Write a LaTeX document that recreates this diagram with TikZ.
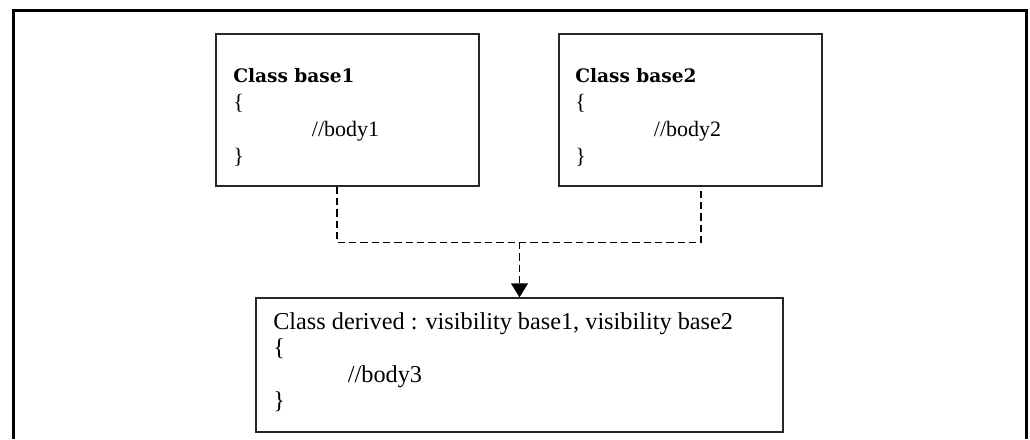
\documentclass[tikz,border=0pt]{standalone}
\usepackage{fontspec}
\setmainfont{Liberation Serif}
\newfontfamily\titlefont{DejaVu Serif}
\usetikzlibrary{arrows.meta}
\begin{document}
\begin{tikzpicture}[x=0.75pt,y=-0.75pt,
  box/.style={draw=black!85,line width=1.1pt,rectangle,inner sep=0pt},
  txt/.style={anchor=north west,inner sep=0pt,align=left},
  conn/.style={draw=black,line width=1.1pt,dash pattern=on 5.5pt off 3pt},
  tip/.style={-{Triangle[width=12.75pt,length=10.5pt]}}]
\useasboundingbox (0,0) rectangle (1030,439);
\draw[line width=2.25pt] (13,439) -- (13,10) -- (1026,10) -- (1026,439);
\node[box,minimum width=197.25pt,minimum height=114pt] (b1) at (347.5,110) {};
\node[box,minimum width=197.25pt,minimum height=114pt] (b2) at (690.5,110) {};
\node[box,minimum width=395.25pt,minimum height=100.5pt] (d) at (519.5,365) {};
\node[txt,font={\fontsize{16.5}{20.25}\selectfont}] (t1) at (233,68)
  {{\titlefont\bfseries\fontsize{13.9}{20.25}\selectfont Class base1}\\\{\\\hspace*{59pt}//body1\\\}};
\node[txt,font={\fontsize{16.5}{20.25}\selectfont}] (t2) at (575,68)
  {{\titlefont\bfseries\fontsize{13.9}{20.25}\selectfont Class base2}\\\{\\\hspace*{59pt}//body2\\\}};
\node[txt,font={\fontsize{18.2}{19.9}\selectfont}] (t3) at (273,312)
  {Class derived : visibility base1, visibility base2\\\{\\\hspace*{56pt}//body3\\\}};
\coordinate (j) at (519.5,242);
\draw[conn] ([xshift=-7.875pt]b1.south) -- ++(0,56) -| ([xshift=7.875pt]b2.south);
\draw[conn,tip] (j) -- (d.north);
\end{tikzpicture}
\end{document}
